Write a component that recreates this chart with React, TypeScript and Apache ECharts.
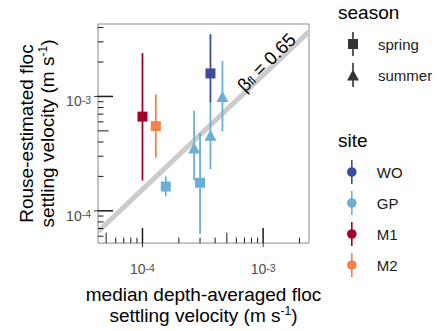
import React, { useEffect, useRef } from 'react';
import * as echarts from 'echarts';

// ---- data ----
const pointSite = ['M1', 'M2', 'GP', 'GP', 'GP', 'WO', 'GP', 'GP'];
const pointSeason = ['spring', 'spring', 'spring', 'summer', 'spring', 'spring', 'summer', 'summer'];
const medianVelocity = [1.0e-4, 1.29e-4, 1.56e-4, 2.68e-4, 3.0e-4, 3.66e-4, 3.66e-4, 4.6e-4];
const rouseVelocity = [6.66e-4, 5.5e-4, 1.63e-4, 3.55e-4, 1.76e-4, 1.59e-3, 4.57e-4, 1.0e-3];
const rouseLow = [1.84e-4, 2.91e-4, 1.34e-4, 1.85e-4, 6.3e-5, 8.8e-4, 2.32e-4, 4.97e-4];
const rouseHigh = [2.39e-3, 1.04e-3, 2.0e-4, 7.5e-4, 4.8e-4, 3.5e-3, 8.8e-4, 2.04e-3];

const siteNames = ['WO', 'GP', 'M1', 'M2'];
const siteColors = ['#3A4C9E', '#6BAED6', '#A50026', '#F4804A'];
const seasonNames = ['spring', 'summer'];
const BETA = 0.65;

const X_MIN = 4.28e-5;
const X_MAX = 2.4e-3;
const Y_MIN = 5.22e-5;
const Y_MAX = 4.3e-3;
const tickDecades = [1e-5, 1e-4, 1e-3];
const tickMultipliers = [1, 2, 3, 4, 5, 6, 7, 8, 9];

const FONT = "'Liberation Sans', Arial, Helvetica, sans-serif";

const ICON_SQUARE = 'path://M4.2,0H5.8V24H4.2Z M0,7H10V17H0Z';
const ICON_TRIANGLE = 'path://M4.2,0H5.8V24H4.2Z M5,6.5L11,17.5L-1,17.5Z';
const ICON_CIRCLE = 'path://M4.2,0H5.8V24H4.2Z M0.2,12A4.8,4.8 0 1 1 9.8,12A4.8,4.8 0 1 1 0.2,12Z';

function tickLen(m: number) {
  return m === 1 ? 15 : m === 5 ? 10.5 : 5.5;
}

function buildTicks() {
  const out: number[][] = [];
  tickDecades.forEach((d) => {
    tickMultipliers.forEach((m) => {
      const v = d * m;
      if (v >= X_MIN && v <= X_MAX) out.push([v, Y_MIN, 0, tickLen(m)]);
      if (v >= Y_MIN && v <= Y_MAX) out.push([X_MIN, v, 1, tickLen(m)]);
    });
  });
  return out;
}

const expLabel = (v: number) => {
  const e = Math.log10(v);
  const r = Math.round(e);
  if (Math.abs(e - r) < 1e-6) return `{b|10}{s|${r}}`;
  return '';
};

const tickRich = {
  b: { fontSize: 14, color: '#4d4d4d', lineHeight: 14, verticalAlign: 'bottom', fontFamily: FONT },
  s: { fontSize: 10.5, color: '#4d4d4d', lineHeight: 10, verticalAlign: 'top', padding: [0, 0, 6, 0], fontFamily: FONT },
};

const nameRich = {
  sup: { fontSize: 12, color: '#000', lineHeight: 12, verticalAlign: 'top', padding: [0, 0, 9, 0], fontFamily: FONT },
};

export default function App() {
  const ref = useRef<HTMLDivElement>(null);
  useEffect(() => {
    if (!ref.current) return;
    const chart = echarts.init(ref.current, undefined, { renderer: 'svg' });

    const siteSeries = siteNames.map((s, si) => ({
      name: s,
      type: 'scatter',
      itemStyle: { color: siteColors[si], opacity: 1 },
      data: pointSite
        .map((ps, i) => ({ ps, i }))
        .filter((o) => o.ps === s)
        .map(({ i }) => ({
          value: [medianVelocity[i], rouseVelocity[i]],
          symbol: pointSeason[i] === 'spring' ? 'rect' : 'triangle',
          symbolSize: pointSeason[i] === 'spring' ? 10 : [12, 11],
        })),
      z: 5,
    }));

    const axisLabelBase = { fontSize: 14, color: '#4d4d4d', fontFamily: FONT, formatter: expLabel, rich: tickRich };

    const option: any = {
      animation: false,
      textStyle: { fontFamily: FONT },
      grid: {
        left: 98,
        top: 24,
        width: 211,
        height: 231,
        show: true,
        borderColor: '#8a8a8a',
        borderWidth: 1,
        backgroundColor: 'transparent',
      },
      xAxis: {
        type: 'log',
        logBase: 10,
        min: X_MIN,
        max: X_MAX,
        axisLine: { show: false },
        axisTick: { show: false },
        splitLine: { show: false },
        axisLabel: { ...axisLabelBase, margin: 19 },
        name: 'median depth-averaged floc\nsettling velocity (m s{sup|-1})',
        nameLocation: 'middle',
        nameGap: 34,
        nameTextStyle: { fontSize: 19, lineHeight: 21, color: '#000', fontFamily: FONT, rich: nameRich },
      },
      yAxis: {
        type: 'log',
        logBase: 10,
        min: Y_MIN,
        max: Y_MAX,
        axisLine: { show: false },
        axisTick: { show: false },
        splitLine: { show: false },
        axisLabel: { ...axisLabelBase, margin: 7, padding: [10, 0, 0, 0] },
        name: 'Rouse-estimated floc\nsettling velocity (m s{sup|-1})',
        nameLocation: 'middle',
        nameRotate: 90,
        nameGap: 40,
        nameTextStyle: { fontSize: 19, lineHeight: 21, color: '#000', fontFamily: FONT, rich: nameRich },
      },
      legend: [
        {
          orient: 'vertical',
          left: 347,
          top: 32,
          padding: 0,
          itemWidth: 40,
          itemHeight: 24,
          itemGap: 7,
          selectedMode: false,
          textStyle: { fontSize: 15, color: '#1a1a1a', fontFamily: FONT },
          data: [
            { name: 'spring', icon: ICON_SQUARE },
            { name: 'summer', icon: ICON_TRIANGLE },
          ],
        },
        {
          orient: 'vertical',
          left: 347,
          top: 160,
          padding: 0,
          itemWidth: 40,
          itemHeight: 24,
          itemGap: 7,
          selectedMode: false,
          textStyle: { fontSize: 15, color: '#1a1a1a', fontFamily: FONT },
          data: siteNames.map((n) => ({ name: n, icon: ICON_CIRCLE })),
        },
      ],
      graphic: [
        { type: 'text', x: 338, y: 12, style: { text: 'season', fontSize: 19, fill: '#000', fontFamily: FONT, align: 'left', verticalAlign: 'middle' } },
        { type: 'text', x: 338, y: 140, style: { text: 'site', fontSize: 19, fill: '#000', fontFamily: FONT, align: 'left', verticalAlign: 'middle' } },
        {
          type: 'text',
          x: 266,
          y: 62,
          rotation: Math.PI / 4,
          style: {
            text: '{b|β}{sub|fl}{b| = 0.65}',
            align: 'center',
            verticalAlign: 'middle',
            fill: '#000',
            fontFamily: FONT,
            fontSize: 18.5,
            rich: {
              b: { fontSize: 18.5, lineHeight: 18, verticalAlign: 'top', fill: '#000', fontFamily: FONT },
              sub: { fontSize: 12, lineHeight: 12, verticalAlign: 'bottom', padding: [9, 0, 0, 0], fill: '#000', fontFamily: FONT },
            },
          },
          z: 10,
        },
      ],
      series: [
        ...seasonNames.map((s) => ({ name: s, type: 'scatter', data: [], itemStyle: { color: '#000' } })),
        {
          name: 'beta line',
          type: 'line',
          symbol: 'none',
          clip: true,
          lineStyle: { color: '#cccccc', width: 5 },
          data: [
            [X_MIN, X_MIN / BETA],
            [X_MAX, X_MAX / BETA],
          ],
          z: 1,
          silent: true,
        },
        {
          name: 'log ticks',
          type: 'custom',
          clip: false,
          silent: true,
          data: buildTicks(),
          renderItem: (params: any, api: any) => {
            const cs = params.coordSys;
            const axis = api.value(2);
            const len = api.value(3);
            const major = len > 12;
            const children: any[] = [];
            if (axis === 0) {
              const px = api.coord([api.value(0), Y_MIN])[0];
              const b = cs.y + cs.height;
              children.push({ type: 'line', shape: { x1: px, y1: b, x2: px, y2: b - len }, style: { stroke: '#1a1a1a', lineWidth: major ? 1.5 : 1 } });
              if (major) children.push({ type: 'line', shape: { x1: px, y1: b, x2: px, y2: b + 4 }, style: { stroke: '#333', lineWidth: 1 } });
            } else {
              const py = api.coord([X_MIN, api.value(1)])[1];
              const l = cs.x;
              children.push({ type: 'line', shape: { x1: l, y1: py, x2: l + len, y2: py }, style: { stroke: '#1a1a1a', lineWidth: major ? 1.5 : 1 } });
              if (major) children.push({ type: 'line', shape: { x1: l, y1: py, x2: l - 4, y2: py }, style: { stroke: '#333', lineWidth: 1 } });
            }
            return { type: 'group', children };
          },
          z: 3,
        },
        {
          name: 'error bars',
          type: 'custom',
          silent: true,
          encode: { x: 0, y: [1, 2] },
          data: medianVelocity.map((x, i) => [x, rouseLow[i], rouseHigh[i], siteNames.indexOf(pointSite[i])]),
          renderItem: (params: any, api: any) => {
            const lo = api.coord([api.value(0), api.value(1)]);
            const hi = api.coord([api.value(0), api.value(2)]);
            return {
              type: 'line',
              shape: { x1: lo[0], y1: lo[1], x2: hi[0], y2: hi[1] },
              style: { stroke: siteColors[api.value(3)], lineWidth: 1.8 },
            };
          },
          z: 4,
        },
        ...siteSeries,
      ],
    };
    chart.setOption(option);
    return () => chart.dispose();
  }, []);
  return <div ref={ref} style={{ position: 'absolute', left: 0, top: 0, width: 440, height: 331 }} />;
}
